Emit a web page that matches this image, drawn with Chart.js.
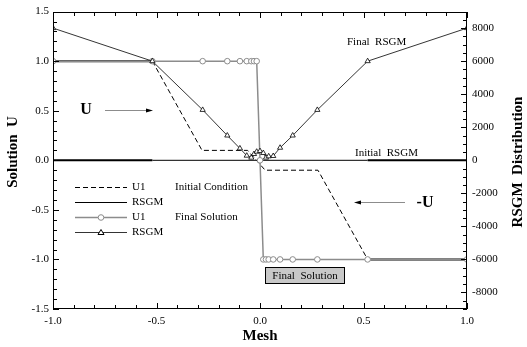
<!DOCTYPE html>
<html>
<head>
<meta charset="utf-8">
<script src="https://cdn.jsdelivr.net/npm/chart.js@4.4.1/dist/chart.umd.min.js"></script>
<style>
  html, body { margin: 0; padding: 0; background: #fff; }
  #wrap { width: 527px; height: 347px; }
</style>
</head>
<body>
<div id="wrap"><canvas id="meshChart"></canvas></div>
<script>
/* ------------------------------
 data
---------------------------------*/
var mesh = [-1, -0.52, -0.277, -0.158, -0.097, -0.064, -0.042, -0.029, -0.016, 0,
            0.016, 0.029, 0.042, 0.064, 0.097, 0.158, 0.277, 0.52, 1];
var u1Final = [1, 1, 1, 1, 1, 1, 1, 1, 1, 0, -1, -1, -1, -1, -1, -1, -1, -1, -1];
var rsgmFinal = [8000, 6000, 3050, 1500, 720, 280, 160, 380, 520, 560,
                 440, 160, 240, 260, 760, 1500, 3050, 6000, 8000];

var initMesh = [-1, -0.52, -0.28, -0.06, 0.025, 0.28, 0.52, 1];
var u1Initial = [1, 1, 0.1, 0.1, -0.1, -0.1, -1, -1];

var rsgmInitMesh = [-1, -0.52, 0.52, 1];
var rsgmInitial = [0, 0, 0, 0];

var xTicks = [-1, -0.5, 0, 0.5, 1];
var uTicks = [-1.5, -1, -0.5, 0, 0.5, 1, 1.5];
var rsgmTicks = [-8000, -6000, -4000, -2000, 0, 2000, 4000, 6000, 8000];

function pts(xs, ys) {
  return xs.map(function (x, i) { return { x: x, y: ys[i] }; });
}

var SERIF = "'Liberation Serif', 'DejaVu Serif', serif";
var GRAY = "#8c8c8c";

/*------------------------------------
* frame, inward ticks, legend, notes
------------------------------------ */
var decor = {
  id: "decor",
  afterDraw: function (chart) {
    var ctx = chart.ctx;
    var a = chart.chartArea;
    var sx = chart.scales.x, sy = chart.scales.y, sr = chart.scales.y2;
    var L = Math.round(a.left), R = Math.round(a.right), T = Math.round(a.top), B = Math.round(a.bottom);
    ctx.save();
    ctx.setLineDash([]);
    ctx.fillStyle = "#000";
    // frame
    ctx.fillRect(L, T, R - L, 1);
    ctx.fillRect(L, B - 1, R - L, 1);
    ctx.fillRect(L, T, 1, B - T);
    ctx.fillRect(R - 1, T, 1, B - T);

    // inward ticks
    var i, p, len;
    for (i = -10; i <= 10; i++) {
      p = Math.round(sx.getPixelForValue(i / 10));
      len = (i % 5 === 0) ? 6 : 4;
      ctx.fillRect(p, B - len, 1, len);
      ctx.fillRect(p, T, 1, len);
    }
    for (i = -15; i <= 15; i++) {
      p = Math.round(sy.getPixelForValue(i / 10));
      len = (i % 5 === 0) ? 6 : 4;
      ctx.fillRect(L, p, len, 1);
    }
    for (i = -18; i <= 18; i++) {
      p = Math.round(sr.getPixelForValue(i * 500));
      len = (i % 4 === 0) ? 6 : 4;
      ctx.fillRect(R - len, p, len, 1);
    }

    // axis titles
    ctx.font = "bold 15px " + SERIF;
    ctx.textAlign = "center";
    ctx.textBaseline = "middle";
    ctx.fillText("Mesh", (a.left + a.right) / 2, 336);
    ctx.save();
    ctx.translate(13, 152);
    ctx.rotate(-Math.PI / 2);
    ctx.fillText("Solution  U", 0, 0);
    ctx.restore();
    ctx.save();
    ctx.translate(518, 162);
    ctx.rotate(-Math.PI / 2);
    ctx.fillText("RSGM  Distribution", 0, 0);
    ctx.restore();

    // legend
    ctx.font = "11px " + SERIF;
    ctx.textAlign = "left";
    var rows = [
      { y: 187, dash: [5, 3], color: "#000", w: 1, mark: null, name: "U1", note: "Initial Condition" },
      { y: 202, dash: [], color: "#000", w: 1, mark: null, name: "RSGM", note: "" },
      { y: 217, dash: [], color: GRAY, w: 1.5, mark: "circle", name: "U1", note: "Final Solution" },
      { y: 232, dash: [], color: "#000", w: 0.8, mark: "triangle", name: "RSGM", note: "" }
    ];
    rows.forEach(function (r) {
      ctx.beginPath();
      ctx.setLineDash(r.dash);
      ctx.strokeStyle = r.color;
      ctx.lineWidth = r.w;
      ctx.moveTo(75, r.y + 0.5); ctx.lineTo(127, r.y + 0.5);
      ctx.stroke();
      ctx.setLineDash([]);
      if (r.mark) {
        ctx.fillStyle = "#fff";
        ctx.strokeStyle = r.color;
        ctx.lineWidth = 1;
        ctx.beginPath();
        if (r.mark === "circle") {
          ctx.arc(101, r.y + 0.5, 2.8, 0, Math.PI * 2);
        } else {
          ctx.moveTo(101, r.y - 2.5); ctx.lineTo(104, r.y + 2.5); ctx.lineTo(98, r.y + 2.5); ctx.closePath();
        }
        ctx.fill(); ctx.stroke();
      }
      ctx.fillStyle = "#000";
      ctx.fillText(r.name, 132, r.y);
      if (r.note) ctx.fillText(r.note, 175, r.y);
    });

    // notes
    ctx.fillText("Final  RSGM", 347, 42);
    ctx.fillText("Initial  RSGM", 355, 153);

    ctx.fillStyle = "#c8c8c8";
    ctx.fillRect(265, 267, 79, 16);
    ctx.strokeStyle = "#000";
    ctx.lineWidth = 1;
    ctx.strokeRect(265.5, 267.5, 79, 16);
    ctx.fillStyle = "#000";
    ctx.textAlign = "center";
    ctx.fillText("Final  Solution", 305, 276);

    // arrows
    ctx.font = "bold 16px " + SERIF;
    ctx.fillText("U", 86, 110);
    ctx.fillText("-U", 425, 203);
    ctx.strokeStyle = GRAY;
    ctx.lineWidth = 1;
    ctx.beginPath();
    ctx.moveTo(105, 110.5); ctx.lineTo(148, 110.5);
    ctx.moveTo(358, 202.5); ctx.lineTo(405, 202.5);
    ctx.stroke();
    ctx.fillStyle = "#000";
    ctx.beginPath();
    ctx.moveTo(153, 110.5); ctx.lineTo(146, 108.5); ctx.lineTo(146, 112.5); ctx.closePath();
    ctx.moveTo(354, 202.5); ctx.lineTo(361, 200.5); ctx.lineTo(361, 204.5); ctx.closePath();
    ctx.fill();
    ctx.restore();
  }
};

/*------------------------------------
* Chart
------------------------------------ */
var tickFont = { family: SERIF, size: 11 };
var noGrid = { display: false, drawTicks: false, tickLength: 0 };
var lastSeg = initMesh.length - 2;

var chartM = new Chart(document.getElementById("meshChart"), {
  type: "scatter",
  data: {
    datasets: [
      {
        label: "RSGM final",
        data: pts(mesh, rsgmFinal),
        yAxisID: "y2",
        showLine: true,
        borderColor: "#000",
        borderWidth: 0.8,
        pointStyle: "triangle",
        pointRadius: 3,
        pointBackgroundColor: "#fff",
        pointBorderColor: "#000",
        pointBorderWidth: 0.8
      },
      {
        label: "U1 final",
        data: pts(mesh, u1Final),
        yAxisID: "y",
        showLine: true,
        borderColor: GRAY,
        borderWidth: 1.5,
        pointStyle: "circle",
        pointRadius: 2.8,
        pointBackgroundColor: "#fff",
        pointBorderColor: GRAY,
        pointBorderWidth: 1
      },
      {
        label: "U1 initial",
        data: pts(initMesh, u1Initial),
        yAxisID: "y",
        showLine: true,
        borderColor: "#000",
        borderWidth: 1,
        borderDash: [5, 3],
        pointRadius: 0,
        segment: {
          // outer flat parts look solid and heavy where the curves overlap
          borderDash: function (c) { return (c.p0DataIndex === 0 || c.p0DataIndex === lastSeg) ? [] : [5, 3]; },
          borderWidth: function (c) { return (c.p0DataIndex === 0 || c.p0DataIndex === lastSeg) ? 2 : 1; }
        }
      },
      {
        label: "RSGM initial",
        data: pts(rsgmInitMesh, rsgmInitial),
        yAxisID: "y2",
        showLine: true,
        borderColor: "#000",
        borderWidth: 1,
        pointRadius: 0,
        segment: {
          borderWidth: function (c) { return c.p0DataIndex === 1 ? 1 : 2; }
        }
      }
    ]
  },
  options: {
    responsive: true,
    maintainAspectRatio: false,
    animation: false,
    layout: { padding: { top: 11, left: 0, right: 0, bottom: 0 } },
    plugins: { legend: { display: false }, tooltip: { enabled: false } },
    scales: {
      x: {
        type: "linear",
        min: -1, max: 1,
        grid: noGrid,
        border: { display: false },
        afterBuildTicks: function (s) { s.ticks = xTicks.map(function (v) { return { value: v }; }); },
        afterFit: function (s) { s.height = 38; },
        ticks: { font: tickFont, color: "#000", padding: 6, maxRotation: 0,
                 callback: function (v) { return v.toFixed(1); } }
      },
      y: {
        type: "linear",
        position: "left",
        min: -1.5, max: 1.5,
        grid: noGrid,
        border: { display: false },
        afterBuildTicks: function (s) { s.ticks = uTicks.map(function (v) { return { value: v }; }); },
        afterFit: function (s) { s.width = 53; },
        ticks: { font: tickFont, color: "#000", padding: 4,
                 callback: function (v) { return v.toFixed(1); } }
      },
      y2: {
        type: "linear",
        position: "right",
        min: -9000, max: 9000,
        grid: noGrid,
        border: { display: false },
        afterBuildTicks: function (s) { s.ticks = rsgmTicks.map(function (v) { return { value: v }; }); },
        afterFit: function (s) { s.width = 60; },
        ticks: { font: tickFont, color: "#000", padding: 5,
                 callback: function (v) { return String(v); } }
      }
    }
  },
  plugins: [decor]
});
</script>
</body>
</html>
